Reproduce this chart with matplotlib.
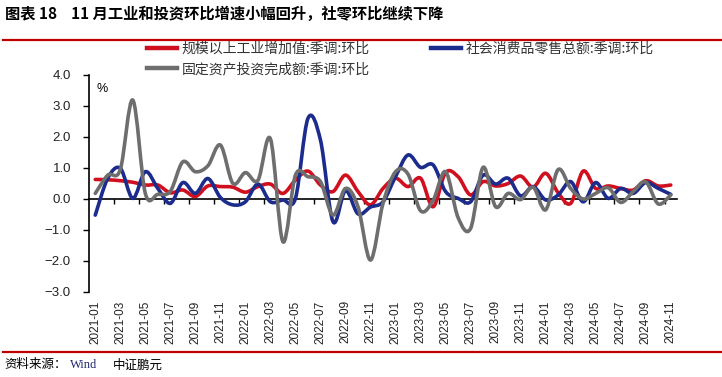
import numpy as np
import matplotlib
matplotlib.use("Agg")
import matplotlib.pyplot as plt
from matplotlib.path import Path
from matplotlib.patches import PathPatch
from matplotlib.lines import Line2D

plt.rcParams['font.family'] = ['Noto Sans CJK SC', 'DejaVu Sans']
plt.rcParams['axes.unicode_minus'] = True

# monthly, 2021-01 .. 2024-11
months = [f"{y}-{m:02d}" for y in range(2021, 2025) for m in range(1, 13)][:47]

industry = [0.63, 0.62, 0.59, 0.54, 0.45, 0.45, 0.20, 0.29, 0.08, 0.42,
            0.40, 0.38, 0.22, 0.40, 0.48, 0.18, 0.61, 0.90, 0.45, 0.24,
            0.77, 0.24, -0.19, 0.34, 0.67, 0.40, 0.67, -0.25, 0.85, 0.72,
            0.13, 0.56, 0.42, 0.50, 0.74, 0.38, 0.83, 0.20, -0.14, 0.90,
            0.34, 0.42, 0.34, 0.29, 0.59, 0.42, 0.45]
retail = [-0.52, 0.67, 0.99, 0.02, 0.88, 0.34, -0.14, 0.53, 0.18, 0.66,
          0.05, -0.19, -0.09, 0.48, -0.09, -0.03, 0.02, 2.60, 1.90, -0.73,
          0.27, -0.48, -0.26, -0.09, 0.72, 1.42, 1.02, 1.10, 0.24, 0.02,
          -0.09, 0.77, 0.48, 0.67, 0.10, 0.40, -0.03, 0.13, 0.56, -0.09,
          0.53, 0.02, 0.34, 0.18, 0.53, 0.34, 0.15]
fai = [0.18, 0.77, 0.95, 3.19, 0.18, 0.15, 0.25, 1.20, 0.88, 1.07,
       1.74, 0.50, 0.85, 0.60, 1.94, -1.38, 0.77, 0.72, 0.56, -0.52,
       0.34, -0.25, -1.97, -0.14, 0.88, 0.80, -0.38, -0.05, 0.88, -0.60,
       -0.95, 1.02, -0.25, 0.18, -0.02, 0.38, -0.35, 0.95, 0.34, 0.00,
       0.18, 0.36, -0.11, 0.24, 0.55, -0.16, 0.13]

series = [
    ("规模以上工业增加值:季调:环比", industry, "#D0101E"),
    ("社会消费品零售总额:季调:环比", retail, "#1C2C8C"),
    ("固定资产投资完成额:季调:环比", fai, "#6E6E6E"),
]


def smooth_path(x, y):
    """Catmull-Rom style bezier through the points (like Excel smoothed lines)."""
    pts = np.column_stack([x, y]).astype(float)
    ext = np.vstack([pts[0], pts, pts[-1]])
    verts = [pts[0]]
    codes = [Path.MOVETO]
    for i in range(len(pts) - 1):
        p0, p1, p2, p3 = ext[i], ext[i + 1], ext[i + 2], ext[i + 3]
        verts += [p1 + (p2 - p0) / 6.0, p2 - (p3 - p1) / 6.0, p2]
        codes += [Path.CURVE4] * 3
    return Path(verts, codes)


fig = plt.figure(figsize=(7.22, 3.77), dpi=100)
fig.patch.set_facecolor("white")
ax = fig.add_axes([0.1233, 0.2255, 0.8144, 0.5756])

xs = np.arange(len(months))
handles = {}
for label, vals, color in series:
    patch = PathPatch(smooth_path(xs, vals), fill=False, edgecolor=color,
                      lw=2.6, capstyle="round", joinstyle="round", zorder=3)
    ax.add_patch(patch)
    handles[label] = Line2D([], [], color=color, lw=3.2, label=label)

ax.set_xlim(-0.5, len(months) - 0.5)
ax.set_ylim(-3.0, 4.0)

# y axis
ax.set_yticks(np.arange(-3, 5, 1))
ax.set_yticklabels([f"{v:.1f}".replace("-", "\u2212") for v in np.arange(-3, 5, 1)],
                   family="Liberation Sans", fontsize=9.5, color="#222222")
ax.tick_params(axis="y", direction="out", length=4, width=1, pad=9)
ax.spines["left"].set_linewidth(1.2)
for s in ["top", "right", "bottom"]:
    ax.spines[s].set_visible(False)

# x labels at the bottom
ax.set_xticks(xs[::2])
ax.set_xticklabels(months[::2], rotation=90, family="Liberation Sans",
                   fontsize=8.5, color="#222222")
ax.tick_params(axis="x", length=0, pad=6)

# zero axis with tick marks between categories
zero = ax.secondary_xaxis(3.0 / 7.0)
zero.set_xticks(np.arange(1.5, len(months) - 0.5, 2))
zero.set_xticklabels([])
zero.tick_params(direction="out", length=3.5, width=1)
zero.spines["bottom"].set_linewidth(1.2)

ax.text(0.012, 0.965, "%", transform=ax.transAxes, ha="left", va="top",
        fontsize=9, family="Liberation Sans")

# column-major fill: industry + fai in column 1, retail in column 2
order = [series[0][0], series[2][0], series[1][0]]
fig.legend(handles=[handles[k] for k in order], ncol=2, loc="upper left",
           bbox_to_anchor=(0.186, 0.922), frameon=False, fontsize=10,
           handlelength=2.2, handletextpad=0.3, columnspacing=4.4,
           labelspacing=0.45, labelcolor="#333333")

# title and frame lines
fig.text(0.007, 0.963, "图表 18    11 月工业和投资环比增速小幅回升，社零环比继续下降",
         fontsize=11, fontweight="bold", ha="left", va="center")
fig.add_artist(Line2D([0.004, 0.998], [0.893, 0.893], transform=fig.transFigure,
                      color="#C00000", lw=1.6))
fig.add_artist(Line2D([0.004, 0.998], [0.066, 0.066], transform=fig.transFigure,
                      color="#C00000", lw=1.6))
fig.text(0.006, 0.032, "资料来源：", fontsize=9, ha="left", va="center")
fig.text(0.097, 0.032, "Wind", fontsize=9, ha="left", va="center",
         family="Liberation Serif", color="#1F2A6E")
fig.text(0.156, 0.032, "中证鹏元", fontsize=9, ha="left", va="center")

fig.savefig("out.png", dpi=100)
